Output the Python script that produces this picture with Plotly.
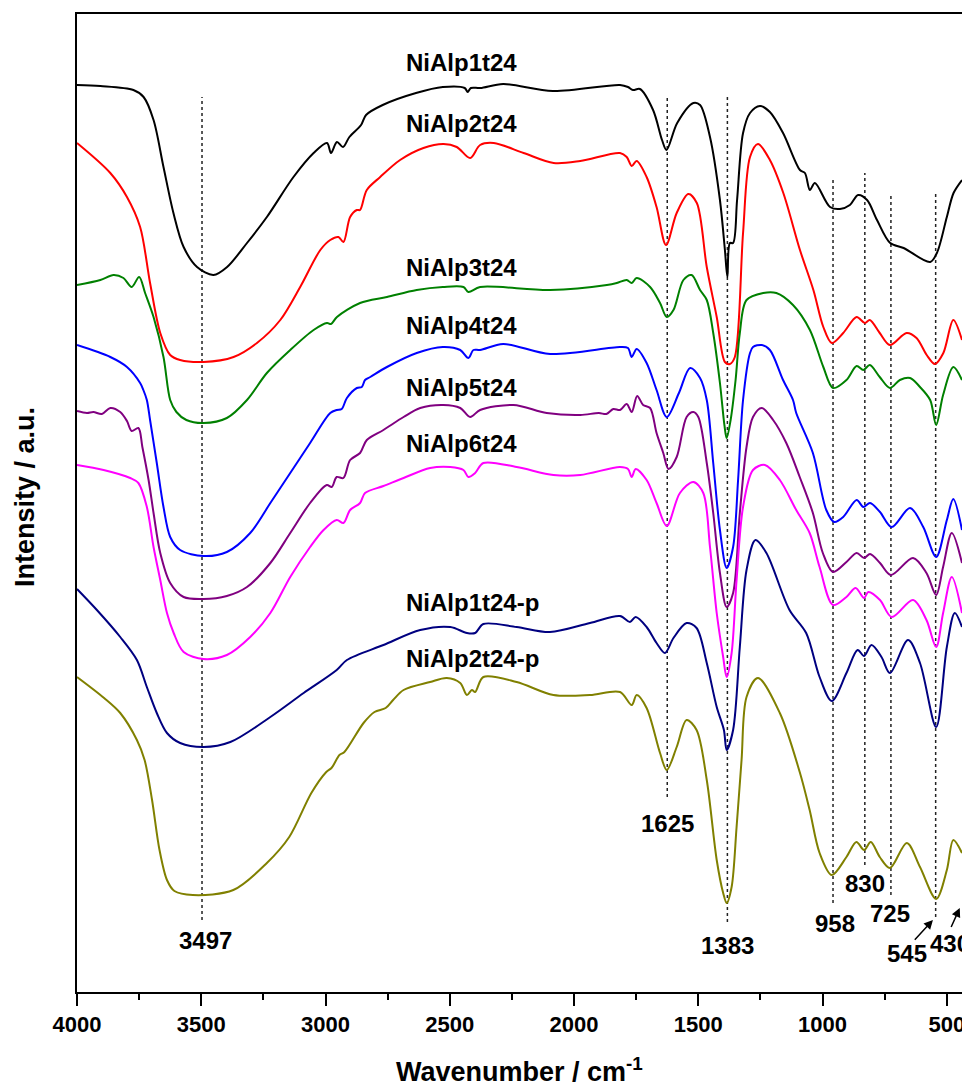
import plotly.graph_objects as go

# ---- FTIR spectra (wavenumber in cm-1, intensity in a.u., stacked) ----
wn_p1 = [4000, 3906, 3773, 3732, 3692, 3652, 3612, 3571, 3517, 3451, 3396, 3316, 3236, 3129, 3048,
         2994, 2978, 2954, 2930, 2904, 2857, 2837, 2770, 2636, 2528, 2440, 2428, 2415, 2377, 2285,
         2085, 1815, 1783, 1763, 1735, 1682, 1646, 1628, 1585, 1520, 1493, 1453, 1413, 1393, 1383,
         1373, 1360, 1344, 1320, 1292, 1252, 1212, 1159, 1091, 1071, 1051, 1031, 970, 930, 890,
         857, 821, 781, 728, 674, 567, 540, 500, 473, 439]
int_p1 = [907, 906, 902, 895, 872, 825, 779, 745, 725, 717, 725, 749, 775, 815, 839,
          849, 839, 850, 845, 855, 867, 877, 887, 899, 905, 904, 900, 904, 904, 908,
          901, 907, 905, 902, 903, 882, 852, 842, 869, 889, 887, 855, 792, 742, 715,
          749, 749, 792, 859, 879, 886, 880, 859, 822, 819, 802, 809, 785, 783, 787,
          797, 792, 772, 749, 744, 730, 739, 775, 799, 812]

wn_p2 = [4000, 3866, 3799, 3746, 3706, 3665, 3625, 3585, 3491, 3370, 3276, 3182, 3102, 3021, 2981,
         2948, 2928, 2901, 2874, 2861, 2834, 2780, 2700, 2606, 2525, 2472, 2418, 2378, 2323, 2203,
         2082, 1975, 1815, 1788, 1768, 1748, 1708, 1668, 1630, 1587, 1540, 1506, 1466, 1426, 1393,
         1373, 1353, 1320, 1292, 1260, 1212, 1158, 1091, 1037, 997, 963, 917, 863, 830, 810,
         770, 729, 662, 622, 581, 548, 514, 474, 439]
int_p2 = [849, 819, 795, 765, 709, 659, 637, 632, 630, 635, 649, 672, 705, 742, 752,
          755, 750, 775, 782, 782, 802, 815, 832, 844, 848, 845, 834, 847, 849, 839,
          829, 831, 839, 835, 826, 831, 815, 785, 747, 779, 798, 789, 725, 675, 630,
          628, 635, 759, 835, 848, 832, 799, 742, 702, 665, 649, 659, 675, 669, 672,
          659, 647, 659, 654, 637, 628, 639, 672, 652]

wn_p3 = [4000, 3906, 3853, 3813, 3780, 3750, 3726, 3692, 3652, 3625, 3600, 3560, 3491, 3397, 3316,
         3236, 3142, 3048, 2994, 2978, 2954, 2861, 2753, 2633, 2528, 2445, 2425, 2378, 2096, 1868,
         1828, 1788, 1768, 1748, 1694, 1654, 1627, 1600, 1560, 1527, 1493, 1466, 1440, 1413, 1395,
         1386, 1370, 1350, 1333, 1306, 1239, 1186, 1119, 1051, 997, 958, 904, 863, 836, 810,
         770, 729, 689, 648, 608, 567, 543, 515, 474, 439]
int_p3 = [707, 712, 717, 714, 705, 715, 699, 675, 635, 592, 580, 572, 569, 574, 592,
          619, 642, 662, 669, 668, 675, 689, 695, 702, 705, 705, 700, 705, 702, 707,
          709, 712, 709, 714, 705, 689, 675, 682, 712, 717, 702, 692, 659, 609, 567,
          554, 572, 612, 659, 692, 699, 699, 687, 662, 625, 604, 612, 626, 622, 627,
          615, 604, 612, 614, 605, 592, 567, 597, 625, 612]

wn_p4 = [4000, 3866, 3799, 3746, 3733, 3719, 3706, 3679, 3652, 3625, 3585, 3491, 3397, 3303, 3222,
         3142, 3062, 2981, 2955, 2935, 2914, 2874, 2854, 2841, 2820, 2753, 2633, 2528, 2458, 2425,
         2405, 2378, 2285, 2096, 1815, 1783, 1768, 1748, 1708, 1668, 1627, 1578, 1533, 1493, 1466,
         1440, 1413, 1386, 1360, 1340, 1320, 1292, 1280, 1245, 1212, 1159, 1119, 1106, 1039, 985,
         953, 917, 863, 836, 809, 769, 722, 648, 595, 543, 500, 474, 439]
int_p4 = [647, 635, 625, 609, 602, 592, 572, 529, 485, 455, 442, 436, 440, 459, 489,
          519, 549, 579, 582, 583, 594, 604, 605, 612, 615, 625, 639, 645, 642, 634,
          642, 642, 648, 638, 645, 644, 635, 643, 629, 602, 575, 599, 624, 614, 592,
          529, 462, 424, 445, 512, 592, 639, 645, 647, 642, 612, 592, 579, 539, 482,
          470, 475, 492, 485, 489, 480, 465, 484, 465, 435, 472, 493, 462]

wn_p5 = [4000, 3960, 3934, 3900, 3866, 3826, 3799, 3780, 3753, 3737, 3712, 3692, 3665, 3625, 3571,
         3491, 3397, 3316, 3222, 3142, 3062, 2995, 2975, 2955, 2928, 2901, 2861, 2834, 2767, 2686,
         2619, 2526, 2458, 2418, 2378, 2244, 2110, 1975, 1900, 1870, 1842, 1815, 1788, 1768, 1746,
         1722, 1694, 1668, 1641, 1620, 1587, 1547, 1520, 1500, 1466, 1440, 1413, 1386, 1360, 1333,
         1306, 1280, 1245, 1199, 1146, 1092, 1039, 999, 958, 904, 863, 833, 809, 769, 725,
         636, 582, 543, 515, 480, 439]
int_p5 = [581, 579, 580, 578, 584, 580, 571, 561, 564, 545, 512, 479, 439, 409, 395,
          393, 396, 405, 429, 459, 489, 507, 505, 515, 514, 532, 539, 552, 562, 575,
          584, 587, 584, 575, 582, 587, 579, 577, 579, 578, 583, 582, 588, 580, 596,
          587, 584, 559, 539, 523, 535, 575, 580, 575, 529, 479, 419, 385, 399, 479,
          545, 575, 584, 572, 549, 515, 479, 439, 420, 430, 439, 434, 438, 429, 417,
          434, 419, 397, 425, 459, 429]

wn_p6 = [4000, 3893, 3786, 3753, 3719, 3692, 3665, 3638, 3611, 3571, 3491, 3397, 3303, 3222, 3142,
         3062, 3008, 2955, 2928, 2901, 2861, 2841, 2767, 2686, 2579, 2498, 2445, 2425, 2398, 2365,
         2231, 2083, 1975, 1815, 1783, 1768, 1752, 1708, 1668, 1627, 1574, 1520, 1480, 1453, 1426,
         1400, 1386, 1366, 1346, 1320, 1280, 1232, 1172, 1106, 1052, 1012, 958, 904, 867, 833,
         816, 769, 722, 636, 582, 543, 515, 480, 439]
int_p6 = [527, 522, 514, 509, 485, 445, 412, 379, 359, 340, 333, 337, 355, 379, 415,
          445, 462, 472, 469, 482, 489, 499, 506, 514, 524, 525, 522, 515, 519, 529,
          525, 517, 517, 525, 523, 515, 523, 512, 489, 466, 499, 510, 499, 445, 379,
          335, 315, 339, 412, 485, 522, 527, 512, 482, 459, 425, 387, 395, 404, 394,
          400, 392, 375, 392, 372, 345, 379, 415, 379]

wn_p1p = [4000, 3920, 3826, 3759, 3719, 3679, 3638, 3585, 3491, 3383, 3222, 3088, 2955, 2914, 2767,
          2619, 2498, 2431, 2398, 2365, 2231, 2097, 1936, 1815, 1775, 1752, 1708, 1668, 1634, 1600,
          1547, 1507, 1466, 1426, 1397, 1386, 1360, 1333, 1306, 1270, 1226, 1133, 1066, 1012, 963,
          904, 859, 833, 803, 763, 729, 656, 608, 543, 500, 468, 439]
int_p1p = [403, 382, 355, 332, 305, 279, 259, 249, 245, 250, 275, 299, 322, 332, 347,
           362, 365, 359, 359, 368, 365, 360, 369, 376, 370, 375, 365, 349, 339, 354,
           369, 364, 329, 285, 262, 242, 262, 345, 422, 452, 439, 382, 359, 315, 291,
           319, 342, 336, 347, 335, 319, 352, 329, 265, 345, 379, 365]

wn_p2p = [4000, 3891, 3826, 3759, 3728, 3698, 3668, 3638, 3608, 3534, 3371, 3236, 3146, 3057,
          2997, 2976, 2944, 2924, 2847, 2803, 2758, 2728, 2686, 2579, 2512, 2458, 2431, 2411, 2398,
          2365, 2231, 2083, 1936, 1815, 1768, 1748, 1708, 1654, 1627, 1587, 1547, 1507, 1466, 1426,
          1400, 1386, 1366, 1346, 1326, 1306, 1260, 1172, 1092, 1052, 1012, 963, 904, 864, 833,
          806, 770, 729, 661, 608, 543, 500, 474, 439]
int_p2p = [315, 294, 279, 252, 232, 192, 142, 112, 101, 97, 102, 129, 155, 199,
           220, 224, 237, 240, 269, 280, 284, 292, 302, 310, 314, 309, 297, 302, 300,
           315, 310, 297, 297, 300, 287, 297, 284, 239, 222, 245, 272, 262, 212, 132,
           99, 89, 105, 165, 232, 295, 314, 279, 220, 182, 139, 117, 135, 150, 142,
           150, 135, 124, 149, 125, 93, 122, 152, 139]

sample_names = ["NiAlp1t24", "NiAlp2t24", "NiAlp3t24", "NiAlp4t24",
                "NiAlp5t24", "NiAlp6t24", "NiAlp1t24-p", "NiAlp2t24-p"]

# ---- assigned band positions (cm-1) and extent of their guide lines (a.u.) ----
band_wn = [3497, 1625, 1383, 958, 830, 725, 545]
band_top = [895, 895, 895, 815, 819, 799, 801]
band_bottom = [72, 195, 70, 89, 127, 97, 75]
extra_band = 430

wavenumbers = [wn_p1, wn_p2, wn_p3, wn_p4, wn_p5, wn_p6, wn_p1p, wn_p2p]
intensities = [int_p1, int_p2, int_p3, int_p4, int_p5, int_p6, int_p1p, int_p2p]
colors = ["#000000", "#ff0000", "#008000", "#0000ff",
          "#800080", "#ff00ff", "#000080", "#808000"]

FONT = "Liberation Sans, Arial, Helvetica, sans-serif"

fig = go.Figure()

# dotted guide lines for the assigned bands
for wn, top, bot in zip(band_wn, band_top, band_bottom):
    fig.add_trace(go.Scatter(
        x=[wn, wn], y=[bot, top], mode="lines",
        line=dict(color="#222222", width=1.5, dash="dot"),
        hoverinfo="skip", showlegend=False))

# spectra
for name, xs, ys, col in zip(sample_names, wavenumbers, intensities, colors):
    fig.add_trace(go.Scatter(
        x=xs, y=ys, mode="lines", name=name,
        line=dict(color=col, width=2, shape="spline", smoothing=0.9),
        showlegend=False))

annotations = []

# sample names, left aligned above each spectrum
name_x = 2684
name_y = [930, 869, 725, 667, 605, 549, 390, 334]
for name, y in zip(sample_names, name_y):
    annotations.append(dict(
        x=name_x, y=y, xref="x", yref="y", text=f"<b>{name}</b>",
        showarrow=False, xanchor="left", yanchor="middle",
        font=dict(family=FONT, size=24, color="black")))

# band labels
band_label_pos = {3497: (3484, 52), 1625: (1626, 169), 1383: (1381, 47),
                  958: (951, 69), 830: (830, 109), 725: (729, 79), 545: (661, 39)}
for wn in band_wn:
    lx, ly = band_label_pos[wn]
    annotations.append(dict(
        x=lx, y=ly, xref="x", yref="y", text=f"<b>{wn}</b>",
        showarrow=False, xanchor="center", yanchor="middle",
        font=dict(family=FONT, size=24, color="black")))

# 430 label (runs past the right border) and the two arrows
annotations.append(dict(
    x=577, y=49, xref="x", yref="y", text=f"<b>{extra_band}</b>",
    showarrow=False, xanchor="left", yanchor="middle",
    font=dict(family=FONT, size=24, color="black")))
for head, tail in [((556, 72), (637, 50)), ((448, 84), (488, 62))]:
    annotations.append(dict(
        x=head[0], y=head[1], ax=tail[0], ay=tail[1],
        xref="x", yref="y", axref="x", ayref="y",
        text=" ", showarrow=True, arrowhead=2, arrowsize=1.2, arrowwidth=1.5,
        arrowcolor="black", font=dict(size=2)))

# axis titles
annotations.append(dict(
    x=0.5, y=-0.08, xref="paper", yref="paper",
    text="<b>Wavenumber / cm<sup>-1</sup></b>", showarrow=False,
    xanchor="center", yanchor="middle",
    font=dict(family=FONT, size=27, color="black")))
annotations.append(dict(
    x=-0.0588, y=0.506, xref="paper", yref="paper",
    text="<b>Intensity / a.u.</b>", showarrow=False, textangle=-90,
    xanchor="center", yanchor="middle",
    font=dict(family=FONT, size=27, color="black")))

fig.update_layout(
    width=962, height=1086,
    margin=dict(l=77, r=0, t=14, b=94, autoexpand=False),
    paper_bgcolor="white", plot_bgcolor="white",
    annotations=annotations,
    xaxis=dict(
        range=[4000, 439], showgrid=False, zeroline=False, automargin=False,
        showline=True, linecolor="black", linewidth=2, mirror=True,
        ticks="outside", ticklen=12, tickwidth=2, tickcolor="black",
        dtick=500, tick0=0, ticklabeloverflow="allow",
        minor=dict(ticks="outside", ticklen=6, tickwidth=2, tickcolor="black", dtick=250),
        tickfont=dict(family=FONT, size=22, color="black", weight="bold"),
    ),
    yaxis=dict(
        range=[0, 978], showgrid=False, zeroline=False, automargin=False,
        showline=True, linecolor="black", linewidth=2, mirror=False,
        ticks="", showticklabels=False,
    ),
)

fig.write_html("out.html")
